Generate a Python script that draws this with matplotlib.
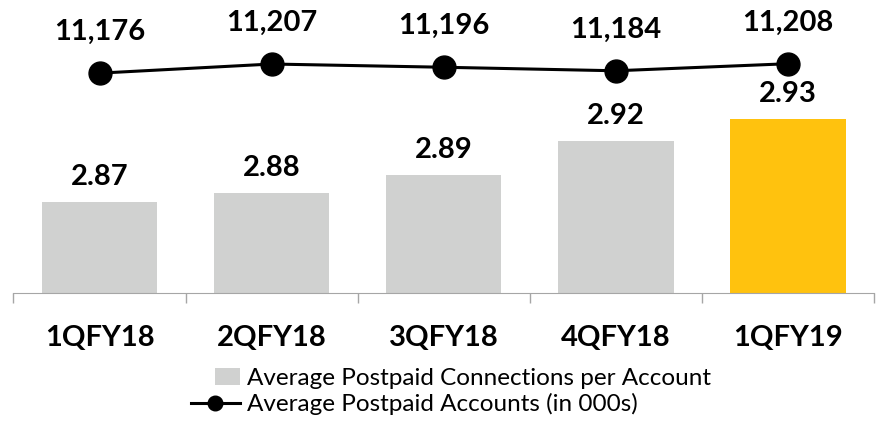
import matplotlib.pyplot as plt
from matplotlib.patches import Patch, Rectangle
from matplotlib.lines import Line2D
from matplotlib.legend_handler import HandlerPatch
import numpy as np

quarters = ["1QFY18", "2QFY18", "3QFY18", "4QFY18", "1QFY19"]
connections = [2.870, 2.877, 2.891, 2.917, 2.934]
accounts = [11176, 11207, 11196, 11184, 11208]
bar_colors = ["#D0D1D0", "#D0D1D0", "#D0D1D0", "#D0D1D0", "#FFC20E"]

plt.rcParams['font.family'] = ['Lato', 'DejaVu Sans']

fig = plt.figure(figsize=(8.82, 4.23), dpi=100)
ax = fig.add_axes([0.0153, 0.3073, 0.9757, 0.6727])
x = np.arange(len(quarters))

ax.bar(x, connections, width=0.67, color=bar_colors, zorder=2)
ax.set_ylim(2.80, 3.0188)
ax.set_xlim(-0.5, 4.5)
for xi, v in zip(x, connections):
    ax.annotate("%.2f" % v, (xi, v), xytext=(0, 18), textcoords="offset points",
                ha="center", va="center", fontsize=21, fontweight="bold")

# category separators as major ticks, labels on minor
ax.set_xticks(np.arange(-0.5, 5, 1))
ax.set_xticklabels([])
ax.set_xticks(x, minor=True)
ax.set_xticklabels(quarters, minor=True, fontsize=21, fontweight="bold")
ax.tick_params(axis="x", which="major", length=7.2, color="#A6A6A6", width=1)
ax.tick_params(axis="x", which="minor", length=0, pad=23)
ax.set_yticks([])
for s in ["top", "left", "right"]:
    ax.spines[s].set_visible(False)
ax.spines["bottom"].set_color("#A6A6A6")

ax2 = ax.twinx()
ax2.plot(x, accounts, color="black", lw=2.2, marker="o", markersize=16.5, zorder=3)
ax2.set_ylim(10428, 11396)
for xi, v in zip(x, accounts):
    ax2.annotate("{:,}".format(v), (xi, v), xytext=(0, 29.5), textcoords="offset points",
                 ha="center", va="center", fontsize=21, fontweight="bold")
ax2.set_yticks([])
for s in ["top", "left", "right", "bottom"]:
    ax2.spines[s].set_visible(False)


def short_patch(legend, orig_handle, xdescent, ydescent, width, height, fontsize):
    # narrower swatch, right-aligned next to the text
    return Rectangle((-xdescent + width - 18, -ydescent), 18, height)


handles = [Patch(facecolor="#D0D1D0", edgecolor="none"),
           Line2D([], [], color="black", lw=2.2, marker="o", markersize=10.5)]
labels = ["Average Postpaid Connections per Account", "Average Postpaid Accounts (in 000s)"]
fig.legend(handles, labels, loc="upper left", bbox_to_anchor=(0.216, 0.13),
           frameon=False, fontsize=17.5, handlelength=2.05, handletextpad=0.28,
           labelspacing=0.17, borderpad=0, borderaxespad=0,
           handler_map={Patch: HandlerPatch(patch_func=short_patch)})

fig.savefig("out.png", dpi=100)
